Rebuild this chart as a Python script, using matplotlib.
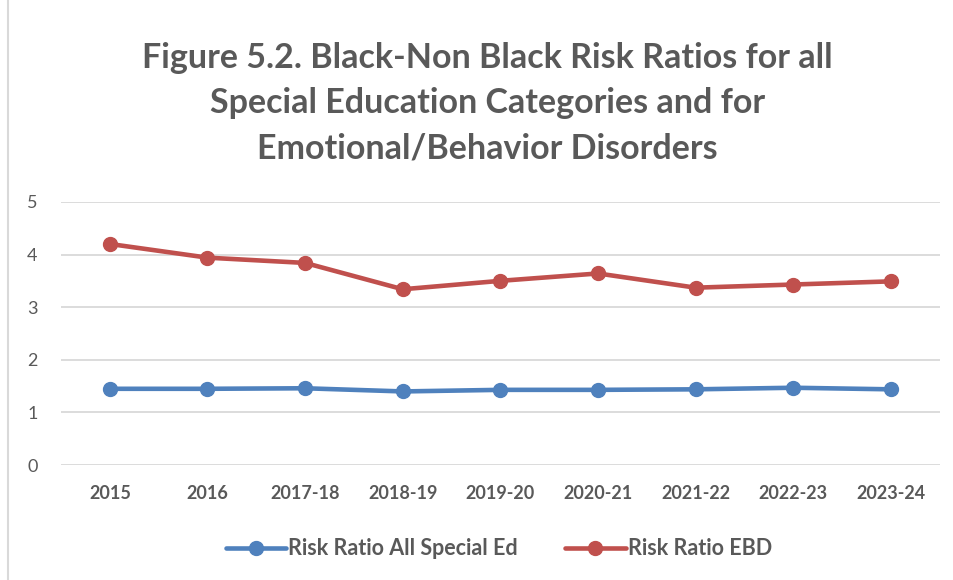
import matplotlib.pyplot as plt
from matplotlib.patches import Rectangle

# Data
years = ['2015', '2016', '2017-18', '2018-19', '2019-20', '2020-21', '2021-22', '2022-23', '2023-24']
rr_all_sped = [1.45, 1.45, 1.46, 1.40, 1.43, 1.43, 1.44, 1.47, 1.44]
rr_ebd = [4.20, 3.94, 3.84, 3.34, 3.50, 3.64, 3.37, 3.43, 3.49]

plt.rcParams['font.family'] = ['Lato', 'DejaVu Sans']
text_grey = '#595959'

fig = plt.figure(figsize=(9.54, 5.8), dpi=100)
ax = fig.add_axes([0.064, 0.198, 0.921, 0.454])

x = range(len(years))
ax.plot(x, rr_all_sped, color='#4F81BD', linewidth=3.3, marker='o', markersize=10,
        label='Risk Ratio All Special Ed', solid_capstyle='round')
ax.plot(x, rr_ebd, color='#C0504D', linewidth=3.3, marker='o', markersize=10,
        label='Risk Ratio EBD', solid_capstyle='round')

ax.set_xlim(-0.5, len(years) - 0.5)
ax.set_ylim(0, 5)
ax.set_yticks(range(6))
ax.set_xticks(list(x))
ax.set_xticklabels(years, fontweight='bold')
ax.tick_params(axis='both', length=0, colors=text_grey, labelsize=13)
ax.tick_params(axis='y', pad=17)
ax.tick_params(axis='x', pad=14)
ax.grid(axis='y', color='#D9D9D9', linewidth=1.3)
ax.set_axisbelow(True)
for s in ax.spines.values():
    s.set_visible(False)

fig.text(0.511, 0.822, 'Figure 5.2. Black-Non Black Risk Ratios for all\n'
                       'Special Education Categories and for\n'
                       'Emotional/Behavior Disorders',
         ha='center', va='center', fontsize=24.5, fontweight='bold', color=text_grey,
         linespacing=1.5)

leg = fig.legend(loc='center', bbox_to_anchor=(0.523, 0.054), ncol=2, frameon=False,
                 fontsize=15.5, handlelength=2.8, columnspacing=2.2, handletextpad=0.1)
for t in leg.get_texts():
    t.set_color(text_grey)
    t.set_fontweight('bold')

# light chart border
fig.patches.append(Rectangle((0.008, -0.01), 1.5, 1.5, transform=fig.transFigure,
                             fill=False, edgecolor='#D9D9D9', linewidth=1.5))

fig.savefig('out.png', dpi=100)
